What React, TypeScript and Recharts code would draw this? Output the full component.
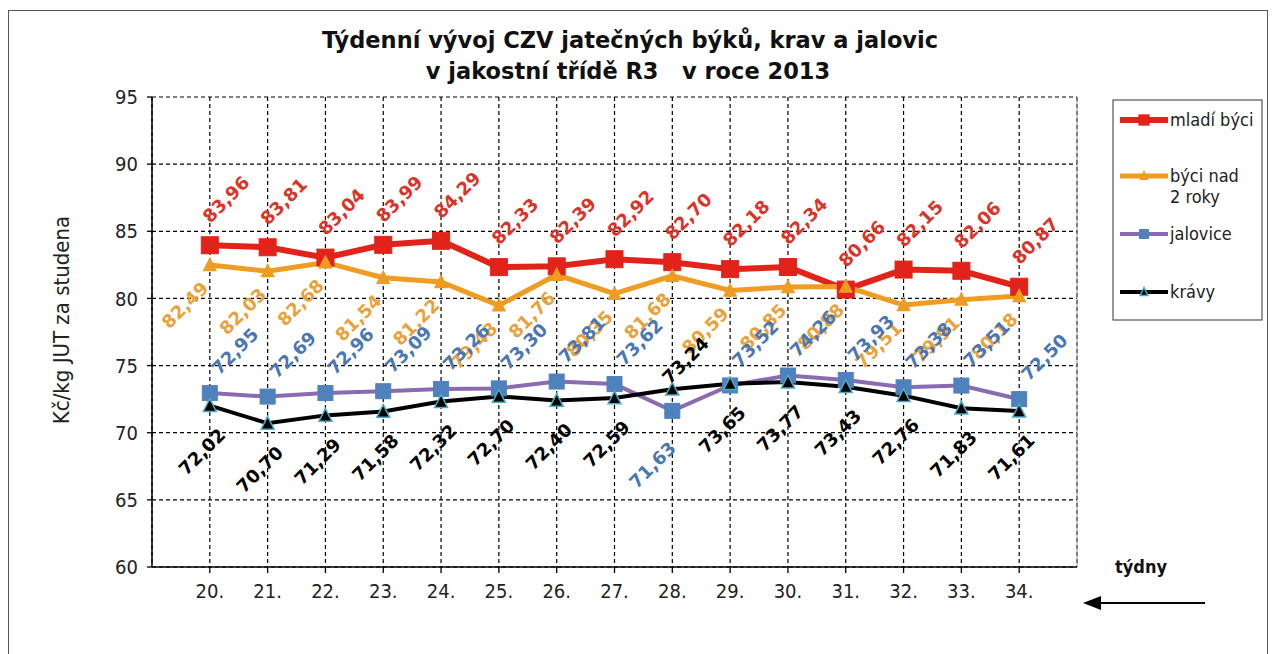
import React from 'react'
import { CartesianGrid, LabelList, Line, LineChart, ReferenceLine, XAxis, YAxis } from 'recharts'

const weeks = [20, 21, 22, 23, 24, 25, 26, 27, 28, 29, 30, 31, 32, 33, 34]
const mladiByci = [83.96, 83.81, 83.04, 83.99, 84.29, 82.33, 82.39, 82.92, 82.7, 82.18, 82.34, 80.66, 82.15, 82.06, 80.87]
const byciNad2 = [82.49, 82.03, 82.68, 81.54, 81.22, 79.48, 81.76, 80.35, 81.68, 80.59, 80.85, 80.88, 79.51, 79.91, 80.18]
const jalovice = [72.95, 72.69, 72.96, 73.09, 73.26, 73.3, 73.81, 73.62, 71.63, 73.52, 74.26, 73.93, 73.38, 73.51, 72.5]
const kravy = [72.02, 70.7, 71.29, 71.58, 72.32, 72.7, 72.4, 72.59, 73.24, 73.65, 73.77, 73.43, 72.76, 71.83, 71.61]
const yTicks = [60, 65, 70, 75, 80, 85, 90, 95]

const data = weeks.map((week, i) => ({
  week,
  mladi: mladiByci[i],
  nad2: byciNad2[i],
  jalovice: jalovice[i],
  kravy: kravy[i]
}))

const FONT = "'DejaVu Sans Condensed', 'DejaVu Sans', sans-serif"
const BOLD_FONT = "'DejaVu Sans', sans-serif"

type Shape = 'square' | 'triangle'

interface SeriesDef {
  key: string
  name: string[]
  line: string
  width: number
  shape: Shape
  size: number
  fill: string
  outline: string
  labelColor: string
  dx: number
  dy: number
}

const series: SeriesDef[] = [
  { key: 'mladi', name: ['mladí býci'], line: '#e2231a', width: 6, shape: 'square', size: 17, fill: '#e2231a', outline: '#e2231a', labelColor: '#dc3328', dx: 16, dy: -46 },
  { key: 'nad2', name: ['býci nad', '2 roky'], line: '#ee9c22', width: 5, shape: 'triangle', size: 12, fill: '#ee9c22', outline: '#ee9c22', labelColor: '#e9a23a', dx: -25, dy: 40 },
  { key: 'jalovice', name: ['jalovice'], line: '#8a6ab0', width: 4, shape: 'square', size: 15, fill: '#4f81bd', outline: '#4f81bd', labelColor: '#4a76b2', dx: 25, dy: -42 },
  { key: 'kravy', name: ['krávy'], line: '#000000', width: 4, shape: 'triangle', size: 13, fill: '#000000', outline: '#4bacc6', labelColor: '#000000', dx: -8, dy: 46 }
]

function marker(shape: Shape, cx: number, cy: number, size: number, fill: string, outline: string, key?: string) {
  if (shape === 'square') {
    return <rect key={key} x={cx - size / 2} y={cy - size / 2} width={size} height={size} fill={fill} stroke={outline} strokeWidth={1} />
  }
  const h = size * 0.9
  return (
    <polygon
      key={key}
      points={`${cx},${cy - h / 2 - 1} ${cx - size / 2},${cy + h / 2} ${cx + size / 2},${cy + h / 2}`}
      fill={fill}
      stroke={outline}
      strokeWidth={1.5}
    />
  )
}

const makeDot = (s: SeriesDef) => (props: any) => {
  const { cx, cy, index } = props
  if (cx == null || cy == null) return <g key={`${s.key}-d-${index}`} />
  return marker(s.shape, cx, cy, s.size, s.fill, s.outline, `${s.key}-d-${index}`)
}

// jalovice and krávy swap sides in week 28, where the lines cross
const makeLabel = (s: SeriesDef) => (props: any) => {
  const { x, y, value, index } = props
  let dx = s.dx
  let dy = s.dy
  if (index === 8 && s.key === 'jalovice') {
    dx = -20
    dy = 54
  }
  if (index === 8 && s.key === 'kravy') {
    dx = 13
    dy = -29
  }
  const cx = Number(x) + dx
  const cy = Number(y) + dy
  return (
    <text
      key={`${s.key}-l-${index}`}
      x={cx}
      y={cy}
      transform={`rotate(-45 ${cx} ${cy})`}
      textAnchor="middle"
      dominantBaseline="central"
      fontFamily={BOLD_FONT}
      fontWeight="bold"
      fontSize={18}
      fill={s.labelColor}
    >
      {Number(value).toFixed(2).replace('.', ',')}
    </text>
  )
}

const legendRows = [109, 165, 223, 281]

export default function App() {
  return (
    <div
      style={{
        position: 'relative',
        width: 1258,
        height: 650,
        marginTop: 2,
        border: '1px solid #555',
        background: '#fff'
      }}
    >
      <div style={{ position: 'absolute', left: 0, top: 0 }}>
        <LineChart width={1258} height={650} data={data} margin={{ top: 86, right: 190, bottom: 64, left: 83 }}>
          <CartesianGrid stroke="#000" strokeDasharray="4 3" strokeWidth={1.2} />
          <XAxis
            type="number"
            dataKey="week"
            domain={[19, 35]}
            ticks={weeks}
            interval={0}
            tickFormatter={(v) => `${v}.`}
            height={30}
            tickSize={6}
            tickMargin={11}
            axisLine={{ stroke: '#000', strokeWidth: 1.5 }}
            tickLine={{ stroke: '#000', strokeWidth: 1.3 }}
            tick={{ fill: '#222', fontSize: 20, fontFamily: FONT }}
          />
          <YAxis
            domain={[60, 95]}
            ticks={yTicks}
            interval={0}
            width={60}
            tickSize={5}
            tickMargin={9}
            axisLine={{ stroke: '#000', strokeWidth: 1.5 }}
            tickLine={{ stroke: '#000', strokeWidth: 1.3 }}
            tick={{ fill: '#222', fontSize: 20, fontFamily: FONT }}
          />
          <ReferenceLine x={35} stroke="#999" strokeWidth={1} />
          {series.map((s) => (
            <Line
              key={s.key}
              type="linear"
              dataKey={s.key}
              stroke={s.line}
              strokeWidth={s.width}
              dot={makeDot(s)}
              activeDot={false}
              isAnimationActive={false}
            >
              <LabelList dataKey={s.key} content={makeLabel(s)} />
            </Line>
          ))}
        </LineChart>
      </div>
      <svg width={1258} height={650} style={{ position: 'absolute', left: 0, top: 0, pointerEvents: 'none' }}>
        <g fontFamily={BOLD_FONT} fontWeight="bold" fontSize={22.5} fill="#111" textAnchor="middle">
          <text x={621} y={37}>Týdenní vývoj CZV jatečných býků, krav a jalovic</text>
          <text x={619} y={68} style={{ whiteSpace: 'pre' }}>
            {'v jakostní třídě R3   v roce 2013'}
          </text>
        </g>
        <text
          x={52}
          y={309}
          transform="rotate(-90 52 309)"
          textAnchor="middle"
          dominantBaseline="central"
          fontFamily={FONT}
          fontSize={22}
          fill="#222"
        >
          Kč/kg JUT za studena
        </text>
        <rect x={1104} y={89} width={149} height={220} fill="none" stroke="#333" strokeWidth={1} />
        {series.map((s, i) => {
          const y = legendRows[i]
          return (
            <g key={s.key}>
              <line x1={1111} x2={1159} y1={y} y2={y} stroke={s.line} strokeWidth={s.width} />
              {marker(s.shape, 1135, y, s.size * 0.6, s.fill, s.outline)}
              {s.name.map((t, j) => (
                <text key={t} x={1161} y={y + 6 + j * 21} fontFamily={FONT} fontSize={18} fill="#222">
                  {t}
                </text>
              ))}
            </g>
          )
        })}
        <text x={1106} y={562} fontFamily={FONT} fontWeight="bold" fontSize={18} fill="#111">
          týdny
        </text>
        <line x1={1196} x2={1086} y1={592} y2={592} stroke="#000" strokeWidth={2} />
        <polygon points="1074,592 1092,585 1092,599" fill="#000" />
      </svg>
    </div>
  )
}
